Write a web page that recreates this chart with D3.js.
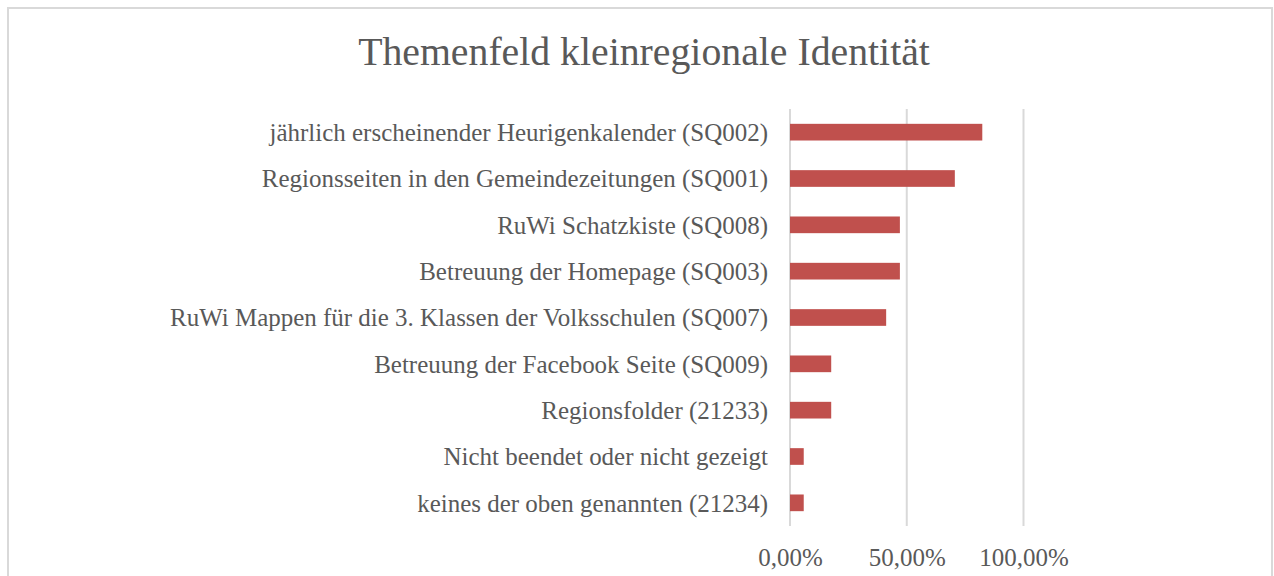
<!DOCTYPE html>
<html>
<head>
<meta charset="utf-8">
<script src="https://cdn.jsdelivr.net/npm/d3@7"></script>
<style>
  body { margin: 0; background: #fff; }
  svg { display: block; }
</style>
</head>
<body>
<svg id="chart" width="1274" height="576"></svg>
<script>
// data (17 respondents -> steps of 1/17)
var categories = [
    "jährlich erscheinender Heurigenkalender (SQ002)",
    "Regionsseiten in den Gemeindezeitungen (SQ001)",
    "RuWi Schatzkiste (SQ008)",
    "Betreuung der Homepage (SQ003)",
    "RuWi Mappen für die 3. Klassen der Volksschulen (SQ007)",
    "Betreuung der Facebook Seite (SQ009)",
    "Regionsfolder (21233)",
    "Nicht beendet oder nicht gezeigt",
    "keines der oben genannten (21234)"
];
var values = [0.8235, 0.7059, 0.4706, 0.4706, 0.4118, 0.1765, 0.1765, 0.0588, 0.0588];
var tickValues = [0, 0.5, 1];
var tickLabels = ["0,00%", "50,00%", "100,00%"];
var title = "Themenfeld kleinregionale Identität";

var svg = d3.select("#chart");
var font = "'Liberation Serif', 'DejaVu Serif', serif";
var textColor = "#595959";

// frame of the pasted chart
svg.append("rect")
    .attr("x", 8)
    .attr("y", 8)
    .attr("width", 1264)
    .attr("height", 600)
    .attr("fill", "#fff")
    .attr("stroke", "#d9d9d9")
    .attr("stroke-width", 2);

var x = d3.scaleLinear()
    .domain([0, 1])
    .range([790, 1023.5]);

var y = d3.scaleBand()
    .domain(categories)
    .range([109, 526])
    .paddingInner(0.64)
    .paddingOuter(0.32);

// gridlines
svg.selectAll(".grid")
    .data(tickValues)
    .enter()
    .append("line")
    .attr("class", "grid")
    .attr("x1", d => x(d))
    .attr("x2", d => x(d))
    .attr("y1", 109)
    .attr("y2", 526)
    .attr("stroke", "#d9d9d9")
    .attr("stroke-width", 2);

// bars
svg.selectAll(".bar")
    .data(values)
    .enter()
    .append("rect")
    .attr("class", "bar")
    .attr("x", x(0))
    .attr("y", (d, i) => y(categories[i]))
    .attr("width", d => x(d) - x(0))
    .attr("height", y.bandwidth())
    .attr("fill", "#c0504d");

// category labels
var labels = svg.selectAll(".label")
    .data(categories)
    .enter()
    .append("text")
    .attr("class", "label")
    .attr("x", 768)
    .attr("y", d => y(d) + y.bandwidth() / 2)
    .attr("dy", "0.35em")
    .attr("text-anchor", "end")
    .style("font-family", font)
    .style("font-size", "20px")
    .style("fill", textColor)
    .text(d => d);

// fit label size so the longest one is as wide as in the picture
var longest = labels.filter((d, i) => i == 4).node().getComputedTextLength();
var labelSize = 20 * 598 / longest;
labels.style("font-size", labelSize + "px");

// x axis tick labels
var ax = d3.axisBottom(x)
    .tickValues(tickValues)
    .tickFormat((d, i) => tickLabels[i])
    .tickSize(0)
    .tickPadding(0);

var axisG = svg.append("g")
    .attr("transform", "translate(0,548)")
    .call(ax);
axisG.select(".domain").remove();
axisG.selectAll("text")
    .attr("dy", "0.71em")
    .style("font-family", font)
    .style("font-size", labelSize + "px")
    .style("fill", textColor);

// title
var t = svg.append("text")
    .attr("x", 644)
    .attr("y", 65)
    .attr("text-anchor", "middle")
    .style("font-family", font)
    .style("font-size", "30px")
    .style("fill", textColor)
    .text(title);
var tw = t.node().getComputedTextLength();
t.style("font-size", (30 * 572 / tw) + "px");
</script>
</body>
</html>
